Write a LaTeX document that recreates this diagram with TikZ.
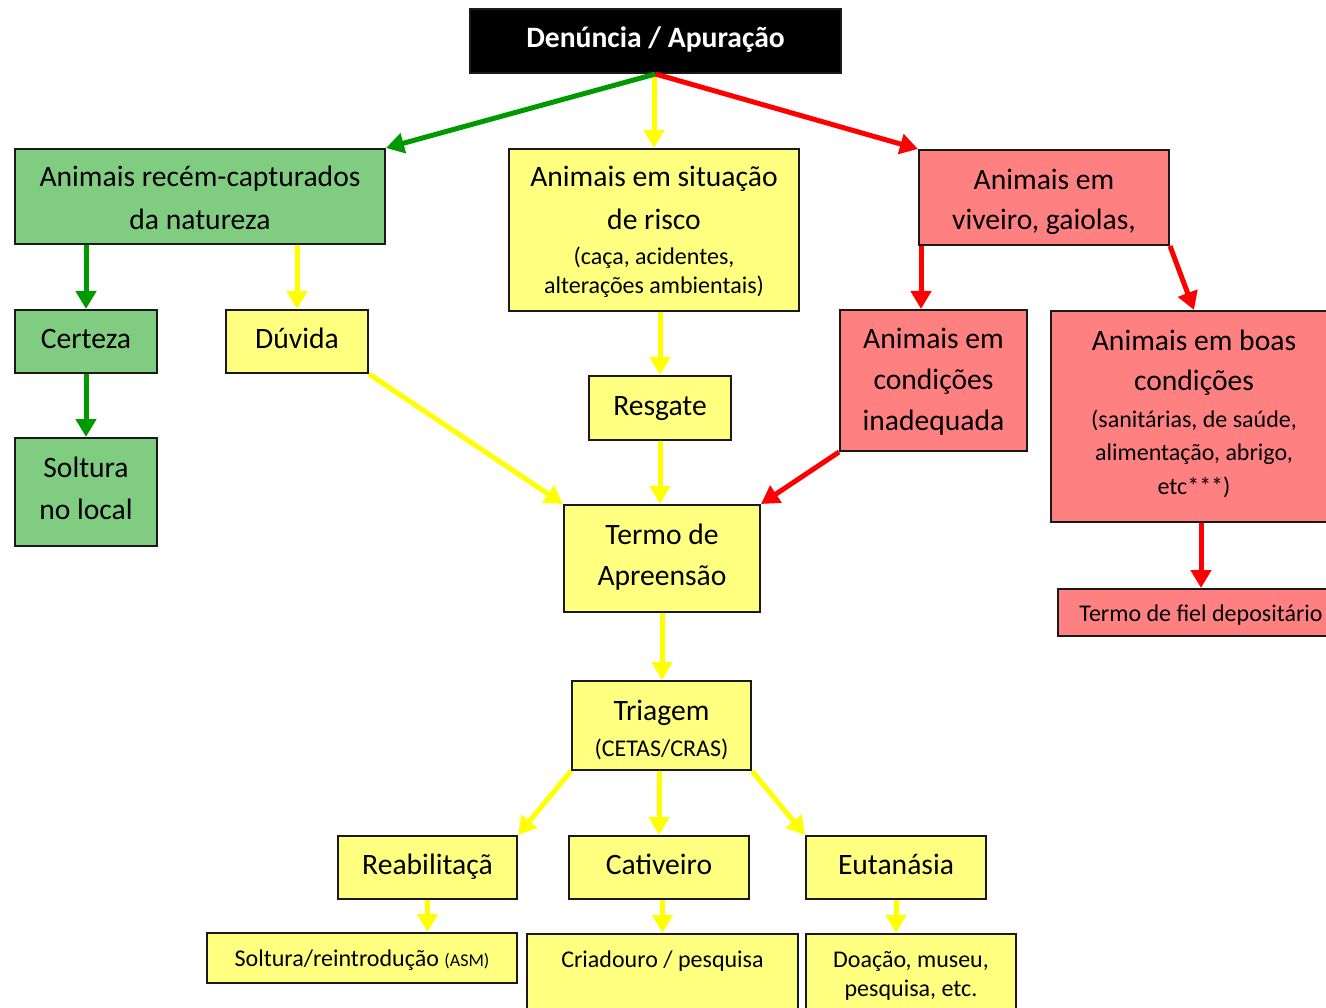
\documentclass[tikz,border=0pt]{standalone}
\usepackage{fontspec}
\setmainfont{Carlito}
\usetikzlibrary{arrows.meta}
\definecolor{gfill}{HTML}{80CC80}
\definecolor{yfill}{HTML}{FFFF80}
\definecolor{rfill}{HTML}{FF8080}
\definecolor{garr}{HTML}{009900}
\definecolor{yarr}{HTML}{FFFF00}
\definecolor{rarr}{HTML}{FF0000}
\newcommand\bigtxt{\fontsize{29.6pt}{0pt}\selectfont\lineskiplimit=-1000pt\relax}
\newcommand\smtxt{\fontsize{24pt}{0pt}\selectfont\lineskiplimit=-1000pt\relax}
\newcommand\tinytxt{\fontsize{18pt}{0pt}\selectfont}
\tikzset{
  bx/.style={draw=black!90, line width=2pt, inner sep=0pt, align=center, font=\bigtxt, text depth=0pt},
  gbx/.style={bx, fill=gfill},
  ybx/.style={bx, fill=yfill},
  rbx/.style={bx, fill=rfill},
  arr/.style={line width=5pt, -{Triangle[length=18pt,width=20pt]}},
  garrow/.style={arr, draw=garr, fill=garr},
  yarrow/.style={arr, draw=yarr, fill=yarr},
  rarrow/.style={arr, draw=rarr, fill=rarr},
}
\begin{document}
\begin{tikzpicture}[x=1pt,y=-1pt]
\useasboundingbox (0,0) rectangle (1326,1008);
\clip (0,0) rectangle (1326,1008);
% nodes
\node[bx, fill=black, text=white, font=\bigtxt\bfseries, minimum width=371pt, minimum height=64pt, text height=13.4pt] (den) at (655.5,41) {Denúncia / Apuração};
\node[gbx, minimum width=370pt, minimum height=95pt, text height=65.6pt] (nat) at (200,196.5) {Animais recém-capturados\\[42.6pt]da natureza};
\node[gbx, minimum width=142pt, minimum height=63pt, text height=15pt] (cert) at (86,341.5) {Certeza};
\node[gbx, minimum width=142pt, minimum height=108pt, text height=54.6pt] (solt) at (86,492) {Soltura\\[42pt]no local};
\node[ybx, minimum width=142pt, minimum height=63pt, text height=15pt] (duv) at (297,341.5) {Dúvida};
\node[ybx, minimum width=290pt, minimum height=162pt, text height=128pt] (sit) at (654,230) {Animais em situação\\[42.6pt]de risco\\[35.7pt]{\smtxt (caça, acidentes,}\\[29pt]{\smtxt alterações ambientais)}};
\node[ybx, minimum width=142pt, minimum height=64pt, text height=14pt] (res) at (660,408) {Resgate};
\node[ybx, minimum width=196pt, minimum height=107pt, text height=53pt] (ter) at (662,558.5) {Termo de\\[41pt]Apreensão};
\node[rbx, minimum width=250pt, minimum height=95pt, text height=63.6pt] (viv) at (1044,197.5) {Animais em\\[40pt]viveiro, gaiolas,};
\node[rbx, minimum width=187pt, minimum height=141pt, text height=100.4pt] (inad) at (933.5,380.5) {Animais em\\[41pt]condições\\[41.4pt]inadequada};
\node[rbx, minimum width=286pt, minimum height=211pt, text height=155pt] (boas) at (1194,416.5) {Animais em boas\\[40pt]condições\\[37pt]{\smtxt (sanitárias, de saúde,}\\[33.5pt]{\smtxt alimentação, abrigo,}\\[33.5pt]{\smtxt etc***)}};
\node[rbx, font=\smtxt, minimum width=286pt, minimum height=47pt, text height=18.4pt] (fiel) at (1201,612.5) {Termo de fiel depositário};
\node[ybx, minimum width=179pt, minimum height=89pt, text height=61pt] (tri) at (661.5,725.5) {Triagem\\[36pt]{\smtxt (CETAS/CRAS)}};
\node[ybx, minimum width=179pt, minimum height=63pt, text height=13pt] (reab) at (427.5,867.5) {Reabilitaçã};
\node[ybx, minimum width=180pt, minimum height=63pt, text height=13pt] (cat) at (659,867.5) {Cativeiro};
\node[ybx, minimum width=180pt, minimum height=63pt, text height=13pt] (eut) at (896,867.5) {Eutanásia};
\node[ybx, font=\smtxt, minimum width=310pt, minimum height=50pt, text height=17.4pt] (sr) at (362,958) {Soltura/reintrodução {\tinytxt(ASM)}};
\node[ybx, font=\smtxt, anchor=north, minimum width=271pt, text height=33.7pt, text depth=80pt] (cri) at (662.5,933) {Criadouro / pesquisa};
\node[ybx, font=\smtxt, anchor=north, minimum width=210pt, text height=62pt, text depth=60pt] (doa) at (911,933) {Doação, museu,\\[28.3pt]pesquisa, etc.};
% connectors
\draw[yarrow] (den.south -| sit.north) -- (sit.north);
\draw[garrow] (den.south) -- (nat.north east);
\draw[rarrow] (den.south) -- (viv.north west);
\draw[garrow] (nat.south -| cert.north) -- (cert.north);
\draw[yarrow] (nat.south -| duv.north) -- (duv.north);
\draw[garrow] (cert.south) -- (solt.north);
\draw[yarrow] (duv.south east) -- (ter.north west);
\draw[yarrow] (sit.south -| res.north) -- (res.north);
\draw[yarrow] (res.south) -- (res.south |- ter.north);
\draw[rarrow] (inad.south west) -- (ter.north east);
\coordinate (vl) at ([xshift=3pt]viv.south west);
\draw[rarrow] (vl) -- (vl |- inad.north);
\draw[rarrow] (viv.south east) -- (boas.north);
\draw[rarrow] (fiel.north |- boas.south) -- (fiel.north);
\draw[yarrow] (ter.south) -- (ter.south |- tri.north);
\draw[yarrow] (tri.south west) -- (reab.north east);
\draw[yarrow] (tri.south -| cat.north) -- (cat.north);
\draw[yarrow] (tri.south east) -- (eut.north west);
\draw[yarrow] (reab.south) -- (reab.south |- sr.north);
\draw[yarrow] (cri.north |- cat.south) -- (cri.north);
\draw[yarrow] (eut.south) -- (eut.south |- doa.north);
\end{tikzpicture}
\end{document}
